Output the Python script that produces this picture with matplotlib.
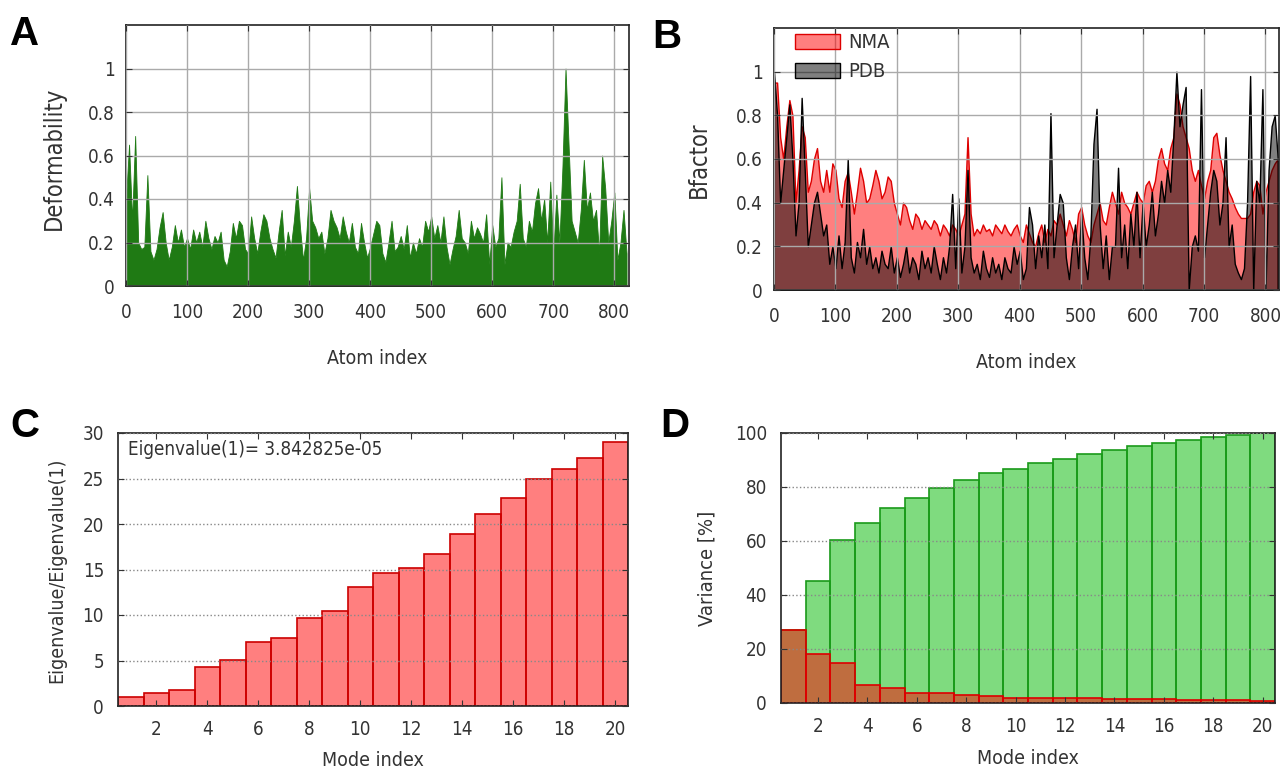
import numpy as np
import matplotlib
matplotlib.use("Agg")
import matplotlib.pyplot as plt
from matplotlib.patches import Patch

plt.rcParams['font.family'] = ['DejaVu Sans']
plt.rcParams['font.stretch'] = 'condensed'

# --- Panel A: deformability, sampled every 5 atoms ---
atoms = np.arange(0, 821, 5)
deform = [
    0.40, 0.65, 0.30, 0.69, 0.20, 0.17, 0.18, 0.51, 0.16, 0.12,
    0.17, 0.27, 0.34, 0.20, 0.12, 0.18, 0.28, 0.20, 0.26, 0.18,
    0.22, 0.17, 0.26, 0.20, 0.25, 0.18, 0.30, 0.22, 0.17, 0.23,
    0.20, 0.25, 0.12, 0.09, 0.16, 0.29, 0.22, 0.30, 0.28, 0.17,
    0.15, 0.32, 0.22, 0.15, 0.25, 0.33, 0.30, 0.22, 0.17, 0.13,
    0.25, 0.35, 0.14, 0.25, 0.18, 0.30, 0.46, 0.27, 0.12, 0.22,
    0.45, 0.30, 0.27, 0.22, 0.25, 0.15, 0.22, 0.35, 0.30, 0.27,
    0.22, 0.32, 0.25, 0.20, 0.29, 0.18, 0.15, 0.29, 0.20, 0.13,
    0.18, 0.24, 0.30, 0.28, 0.15, 0.11, 0.20, 0.30, 0.16, 0.18,
    0.23, 0.17, 0.28, 0.13, 0.20, 0.15, 0.22, 0.18, 0.30, 0.25,
    0.32, 0.22, 0.28, 0.20, 0.32, 0.18, 0.10, 0.17, 0.23, 0.35,
    0.22, 0.20, 0.15, 0.30, 0.22, 0.27, 0.24, 0.20, 0.33, 0.10,
    0.28, 0.18, 0.22, 0.50, 0.10, 0.20, 0.18, 0.25, 0.30, 0.47,
    0.22, 0.18, 0.30, 0.25, 0.38, 0.45, 0.30, 0.40, 0.20, 0.48,
    0.15, 0.42, 0.20, 0.55, 1.00, 0.65, 0.30, 0.25, 0.20, 0.35,
    0.58, 0.35, 0.43, 0.30, 0.35, 0.15, 0.60, 0.45, 0.20, 0.30,
    0.43, 0.12, 0.20, 0.35, 0.15,
]

# --- Panel B: normalised B-factors, sampled every 5 atoms ---
bf_nma = [
    0.95, 0.95, 0.70, 0.60, 0.75, 0.87, 0.80, 0.40, 0.55, 0.75,
    0.70, 0.45, 0.50, 0.60, 0.65, 0.50, 0.45, 0.55, 0.45, 0.58,
    0.55, 0.42, 0.38, 0.50, 0.54, 0.45, 0.35, 0.45, 0.56, 0.50,
    0.40, 0.42, 0.48, 0.55, 0.50, 0.42, 0.45, 0.52, 0.50, 0.40,
    0.35, 0.30, 0.40, 0.38, 0.32, 0.28, 0.35, 0.33, 0.28, 0.32,
    0.30, 0.28, 0.32, 0.30, 0.25, 0.30, 0.28, 0.25, 0.30, 0.28,
    0.25, 0.30, 0.35, 0.70, 0.35, 0.25, 0.28, 0.26, 0.30, 0.27,
    0.28, 0.25, 0.30, 0.28, 0.26, 0.30, 0.27, 0.25, 0.28, 0.30,
    0.25, 0.22, 0.30, 0.26, 0.22, 0.20, 0.26, 0.30, 0.22, 0.28,
    0.25, 0.32, 0.30, 0.35, 0.30, 0.25, 0.32, 0.28, 0.22, 0.35,
    0.38, 0.30, 0.25, 0.22, 0.30, 0.35, 0.40, 0.32, 0.30, 0.38,
    0.45, 0.40, 0.35, 0.45, 0.40, 0.38, 0.35, 0.40, 0.45, 0.42,
    0.40, 0.48, 0.50, 0.45, 0.50, 0.60, 0.65, 0.58, 0.55, 0.65,
    0.70, 0.90, 0.85, 0.75, 0.70, 0.65, 0.55, 0.50, 0.55, 0.48,
    0.42, 0.50, 0.55, 0.70, 0.72, 0.62, 0.55, 0.50, 0.45, 0.42,
    0.38, 0.35, 0.33, 0.33, 0.33, 0.35, 0.45, 0.50, 0.48, 0.35,
    0.45, 0.50, 0.55, 0.58, 0.60,
]
bf_pdb = [
    1.00, 0.80, 0.40, 0.55, 0.70, 0.85, 0.60, 0.25, 0.40, 0.88,
    0.55, 0.20, 0.30, 0.40, 0.45, 0.35, 0.25, 0.30, 0.12, 0.20,
    0.10, 0.25, 0.10, 0.22, 0.60, 0.15, 0.08, 0.22, 0.15, 0.28,
    0.12, 0.20, 0.10, 0.15, 0.08, 0.18, 0.12, 0.10, 0.20, 0.08,
    0.15, 0.06, 0.12, 0.20, 0.08, 0.15, 0.12, 0.05, 0.18, 0.10,
    0.15, 0.08, 0.20, 0.12, 0.05, 0.15, 0.08, 0.20, 0.44, 0.10,
    0.42, 0.08, 0.20, 0.55, 0.15, 0.08, 0.12, 0.05, 0.18, 0.10,
    0.06, 0.15, 0.08, 0.12, 0.05, 0.15, 0.10, 0.08, 0.20, 0.12,
    0.18, 0.05, 0.10, 0.38, 0.30, 0.10, 0.25, 0.15, 0.30, 0.10,
    0.81, 0.15, 0.30, 0.44, 0.40, 0.15, 0.05, 0.20, 0.30, 0.10,
    0.35, 0.15, 0.05, 0.25, 0.67, 0.83, 0.30, 0.10, 0.25, 0.05,
    0.20, 0.20, 0.56, 0.15, 0.30, 0.10, 0.35, 0.20, 0.45, 0.15,
    0.40, 0.20, 0.30, 0.45, 0.25, 0.35, 0.50, 0.40, 0.55, 0.45,
    0.70, 1.00, 0.75, 0.85, 0.93, 0.00, 0.20, 0.25, 0.18, 0.92,
    0.15, 0.30, 0.45, 0.55, 0.50, 0.30, 0.40, 0.70, 0.20, 0.30,
    0.12, 0.08, 0.05, 0.10, 0.40, 0.98, 0.00, 0.50, 0.40, 0.92,
    0.00, 0.55, 0.75, 0.80, 0.60,
]

# --- Panel C / D: first 20 modes ---
modes = np.arange(1, 21)
eig_ratio = [1.0, 1.46, 1.76, 4.28, 5.05, 6.99, 7.5, 9.7, 10.43, 13.03,
             14.64, 15.18, 16.72, 18.88, 21.08, 22.87, 24.92, 26.02, 27.26, 29.02]
var_indiv = [27.2, 18.3, 15.0, 6.6, 5.5, 3.7, 3.7, 3.0, 2.7, 2.0,
             1.9, 1.8, 1.8, 1.4, 1.4, 1.3, 1.1, 1.1, 1.0, 0.8]
var_cumul = [27.2, 45.2, 60.2, 66.8, 72.2, 75.9, 79.6, 82.5, 85.1, 86.8,
             88.8, 90.5, 92.3, 93.7, 95.2, 96.2, 97.3, 98.4, 99.4, 100.0]

W, H = 1280, 774
fig = plt.figure(figsize=(W / 100, H / 100), dpi=100)

txt = '#333333'
fs = 13.5


def px_axes(left, top, right, bottom):
    ax = fig.add_axes([left / W, 1 - bottom / H, (right - left) / W, (bottom - top) / H])
    ax._px = (left, top, right, bottom)
    return ax


def style(ax, xpad, ypad):
    ax.tick_params(direction='in', top=True, right=True, labelsize=fs, colors=txt,
                   length=4)
    ax.tick_params(axis='x', pad=xpad)
    ax.tick_params(axis='y', pad=ypad)
    for s in ax.spines.values():
        s.set_color('#222222')
        s.set_linewidth(1.2)


def put_labels(ax, xlab, xcy, ylab, ycx, ycy, ysize):
    # place axis labels by their centre, given in figure pixels
    l, t, r, b = ax._px
    ax.set_xlabel(xlab, fontsize=fs + 0.5, color=txt, va='center')
    ax.xaxis.set_label_coords(0.5, (b - xcy) / (b - t))
    ax.set_ylabel(ylab, fontsize=ysize, color=txt, va='center', ha='center')
    ax.yaxis.set_label_coords((ycx - l) / (r - l), (b - ycy) / (b - t))


# A
axA = px_axes(126, 25, 629, 286)
axA.fill_between(atoms, deform, 0, color='#1f7a14', linewidth=0.6, zorder=1)
axA.set_xlim(0, 824)
axA.set_ylim(0, 1.2)
axA.set_xticks(range(0, 801, 100))
axA.set_yticks([0, 0.2, 0.4, 0.6, 0.8, 1])
axA.set_yticklabels(['0', '0.2', '0.4', '0.6', '0.8', '1'])
axA.grid(True, color='#aaaaaa', linewidth=1.0, zorder=3)
axA.set_axisbelow(False)
style(axA, 12, 8)
put_labels(axA, 'Atom index', 358, 'Deformability', 54, 158, 17)

# B
axB = px_axes(774, 28, 1279, 290)
axB.fill_between(atoms, bf_nma, 0, facecolor=(1, 0, 0, 0.5), edgecolor='#dd0000',
                 linewidth=1.0, zorder=1)
axB.fill_between(atoms, bf_pdb, 0, facecolor=(0, 0, 0, 0.5), edgecolor='black',
                 linewidth=1.0, zorder=2)
axB.set_xlim(0, 822)
axB.set_ylim(0, 1.2)
axB.set_xticks(range(0, 801, 100))
axB.set_yticks([0, 0.2, 0.4, 0.6, 0.8, 1])
axB.set_yticklabels(['0', '0.2', '0.4', '0.6', '0.8', '1'])
axB.grid(True, color='#aaaaaa', linewidth=1.0, zorder=3)
axB.set_axisbelow(False)
handles = [Patch(facecolor=(1, 0, 0, 0.5), edgecolor='#dd0000', label='NMA'),
           Patch(facecolor=(0, 0, 0, 0.5), edgecolor='black', label='PDB')]
axB.legend(handles=handles, loc='upper left', bbox_to_anchor=(0.042, 0.98),
           frameon=False, fontsize=14.5, handlelength=2.2, handleheight=0.8,
           labelspacing=0.5, borderpad=0, borderaxespad=0, handletextpad=0.45,
           labelcolor=txt)
style(axB, 12, 8)
put_labels(axB, 'Atom index', 362, 'Bfactor', 699, 160, 17)

# C
axC = px_axes(118, 433, 628, 706)
axC.bar(modes, eig_ratio, width=1.0, facecolor=(1, 0, 0, 0.5), edgecolor='#cc0000',
        linewidth=1.2, zorder=1)
axC.set_xlim(0.5, 20.5)
axC.set_ylim(0, 30)
axC.set_xticks(range(2, 21, 2))
axC.set_yticks(range(0, 31, 5))
axC.yaxis.grid(True, linestyle=':', color='#888888', linewidth=1.0, zorder=3)
axC.set_axisbelow(False)
axC.text(0.02, 0.938, 'Eigenvalue(1)= 3.842825e-05', transform=axC.transAxes,
         ha='left', va='center', fontsize=fs, color=txt)
style(axC, 10, 10)
put_labels(axC, 'Mode index', 761, 'Eigenvalue/Eigenvalue(1)', 57, 570, 14)

# D
axD = px_axes(781, 433, 1275, 703)
axD.bar(modes, var_cumul, width=1.0, facecolor=(0, 0.72, 0, 0.5), edgecolor='#1a9a1a',
        linewidth=1.2, zorder=1)
axD.bar(modes, var_indiv, width=1.0, facecolor=(1, 0, 0, 0.5), edgecolor='#dd0000',
        linewidth=1.2, zorder=2)
axD.set_xlim(0.5, 20.5)
axD.set_ylim(0, 100)
axD.set_xticks(range(2, 21, 2))
axD.set_yticks(range(0, 101, 20))
axD.yaxis.grid(True, linestyle=':', color='#888888', linewidth=1.0, zorder=3)
axD.set_axisbelow(False)
style(axD, 10, 10)
put_labels(axD, 'Mode index', 759, 'Variance [%]', 707, 568, 14.5)

# panel letters
for lab, x, y in [('A', 10, 45), ('B', 652, 48), ('C', 10, 437), ('D', 660, 437)]:
    fig.text(x / W, 1 - y / H, lab, fontsize=29, fontweight='bold',
             family=['Liberation Sans', 'DejaVu Sans'], fontstretch='normal',
             color='black')

fig.savefig('out.png', dpi=100)
